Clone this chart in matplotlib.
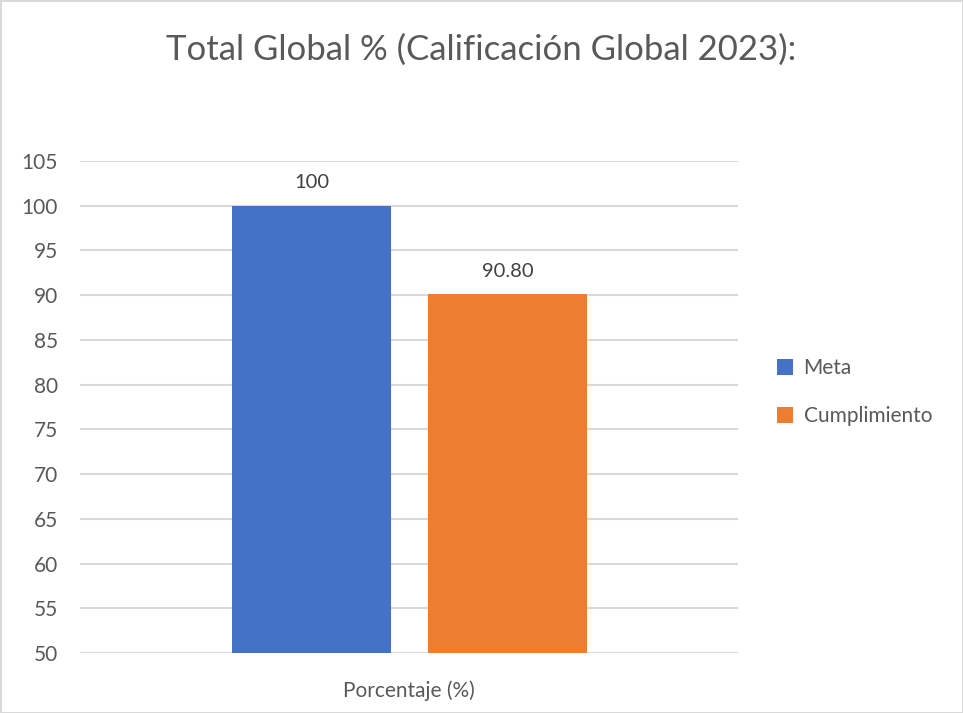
import matplotlib
matplotlib.use("Agg")
import matplotlib.pyplot as plt
import numpy as np

categoria = ['Porcentaje (%)']
series = ['Meta', 'Cumplimiento']
valores = [100, 90.1]
etiquetas = ['100', '90.80']
colores = ['#4472C4', '#ED7D31']
yticks = [50, 55, 60, 65, 70, 75, 80, 85, 90, 95, 100, 105]

plt.rcParams['font.family'] = ['Lato', 'DejaVu Sans']

fig = plt.figure(figsize=(9.63, 7.13), dpi=100)
fig.patch.set_edgecolor('#d9d9d9')
fig.patch.set_linewidth(2)
ax = fig.add_axes([0.0831, 0.0842, 0.6833, 0.69])

ancho = 0.2416
posiciones = [-0.148, 0.150]
for i in range(len(series)):
    ax.bar(posiciones[i], valores[i], width=ancho, color=colores[i], label=series[i], zorder=3)
    ax.text(posiciones[i], valores[i] + 1.6, etiquetas[i], ha='center', va='bottom',
            fontsize=14.5, color='#404040')

ax.set_xlim(-0.5, 0.5)
ax.set_ylim(50, 105)
ax.set_yticks(yticks)
ax.set_xticks([0])
ax.set_xticklabels(categoria)
ax.tick_params(axis='both', length=0, labelsize=15, colors='#595959')
ax.tick_params(axis='y', pad=16)
ax.tick_params(axis='x', pad=20)
ax.grid(axis='y', color='#d9d9d9', linewidth=1.5, zorder=0)
for s in ax.spines.values():
    s.set_visible(False)

fig.text(0.5, 0.93, 'Total Global % (Calificación Global 2023):', ha='center', va='center',
         fontsize=25, color='#595959')

ax.legend(loc='center left', bbox_to_anchor=(1.03, 0.53), frameon=False, fontsize=15,
          labelcolor='#595959', handlelength=0.8, handleheight=0.8, labelspacing=1.35,
          handletextpad=0.5)

fig.savefig('out.png', dpi=100)
